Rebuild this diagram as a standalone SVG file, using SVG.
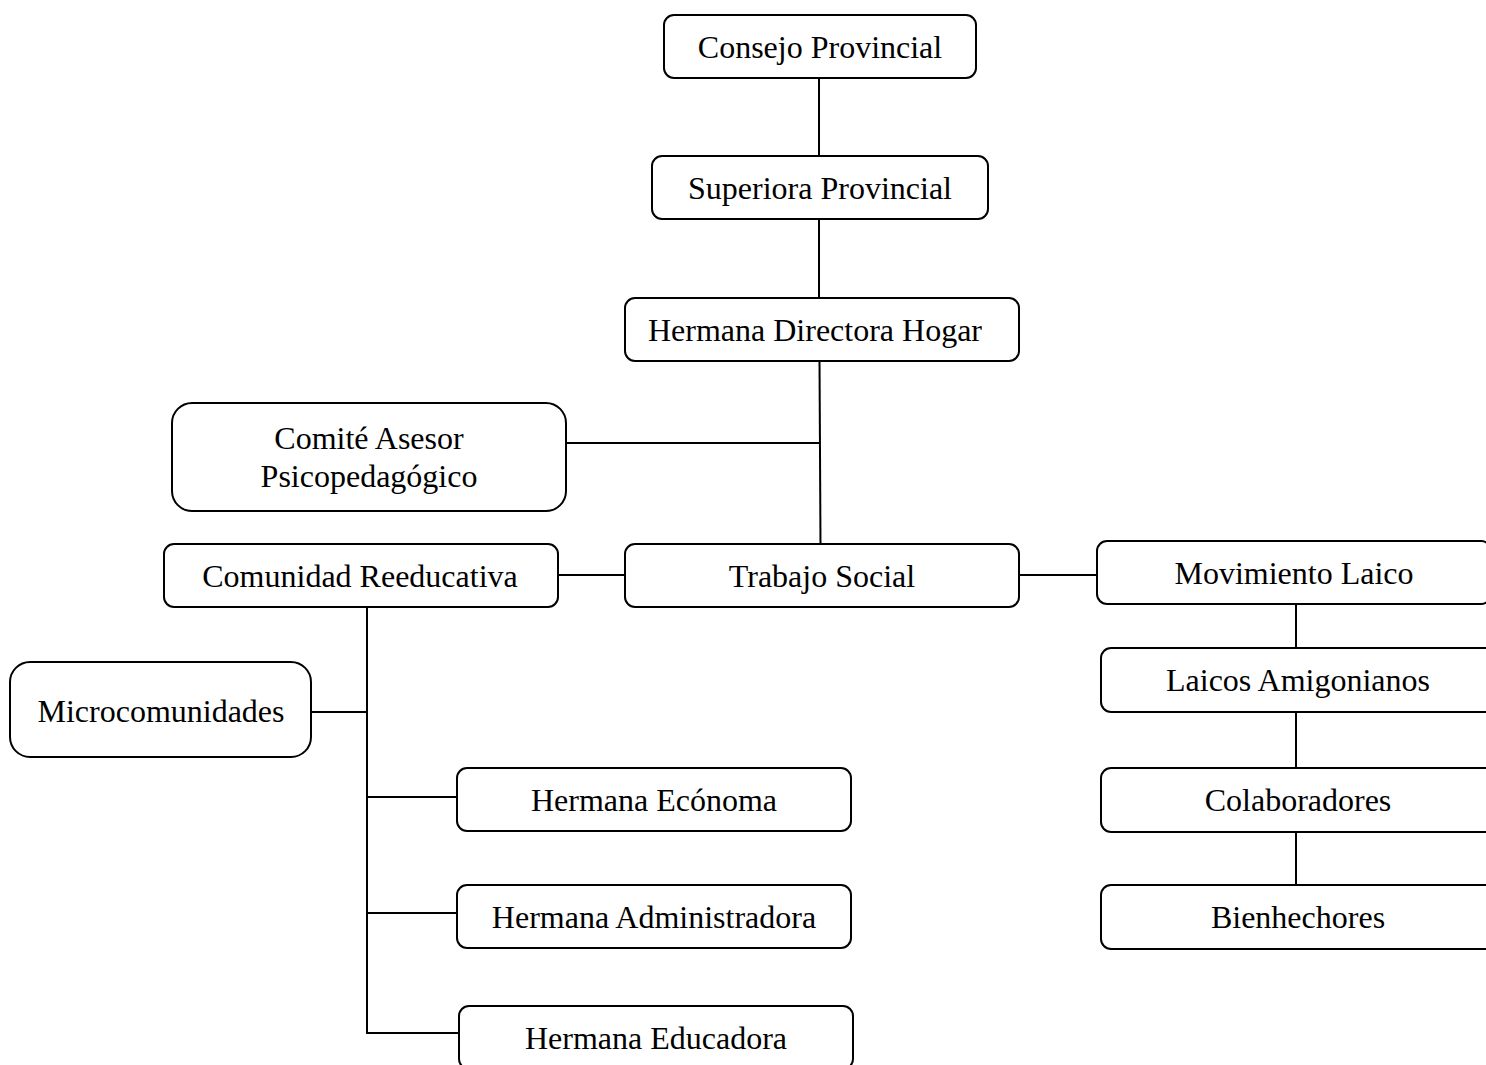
<svg xmlns="http://www.w3.org/2000/svg" width="1486" height="1065" viewBox="0 0 1486 1065">
<style>
.b{fill:#fff;stroke:#000;stroke-width:2}
.t{font-family:"Liberation Serif","Times New Roman",serif;font-size:32px;fill:#000;text-anchor:middle}
.c line{stroke:#000;stroke-width:2}
</style>
<rect width="1486" height="1065" fill="#fff"/>
<g class="c" id="connectors">
<line x1="819" y1="78" x2="819" y2="156"/>
<line x1="819" y1="219" x2="819" y2="298"/>
<line x1="819.5" y1="361" x2="820.5" y2="544"/>
<line x1="566" y1="443" x2="820" y2="443"/>
<line x1="558" y1="575" x2="625" y2="575"/>
<line x1="1019" y1="575" x2="1097" y2="575"/>
<line x1="367" y1="607" x2="367" y2="1034"/>
<line x1="366" y1="1033" x2="459" y2="1033"/>
<line x1="311" y1="712" x2="367" y2="712"/>
<line x1="367" y1="797" x2="457" y2="797"/>
<line x1="367" y1="913" x2="457" y2="913"/>
<line x1="1296" y1="604" x2="1296" y2="648"/>
<line x1="1296" y1="712" x2="1296" y2="768"/>
<line x1="1296" y1="832" x2="1296" y2="885"/>
</g>
<g id="n1"><rect class="b" x="664" y="15" width="312" height="63" rx="10"/><text class="t" x="820" y="58">Consejo Provincial</text></g>
<g id="n2"><rect class="b" x="652" y="156" width="336" height="63" rx="10"/><text class="t" x="820" y="199">Superiora Provincial</text></g>
<g id="n3"><rect class="b" x="625" y="298" width="394" height="63" rx="10"/><text class="t" x="815" y="341">Hermana Directora Hogar</text></g>
<g id="n4"><rect class="b" x="172" y="403" width="394" height="108" rx="20"/><text class="t" x="369" y="449">Comité Asesor</text><text class="t" x="369" y="487">Psicopedagógico</text></g>
<g id="n5"><rect class="b" x="164" y="544" width="394" height="63" rx="10"/><text class="t" x="360" y="587">Comunidad Reeducativa</text></g>
<g id="n6"><rect class="b" x="625" y="544" width="394" height="63" rx="10"/><text class="t" x="822" y="587">Trabajo Social</text></g>
<g id="n7"><rect class="b" x="1097" y="541" width="394" height="63" rx="10"/><text class="t" x="1294" y="584">Movimiento Laico</text></g>
<g id="n8"><rect class="b" x="10" y="662" width="301" height="95" rx="20"/><text class="t" x="161" y="722">Microcomunidades</text></g>
<g id="n9"><rect class="b" x="457" y="768" width="394" height="63" rx="10"/><text class="t" x="654" y="811">Hermana Ecónoma</text></g>
<g id="n10"><rect class="b" x="457" y="885" width="394" height="63" rx="10"/><text class="t" x="654" y="928">Hermana Administradora</text></g>
<g id="n11"><rect class="b" x="459" y="1006" width="394" height="63" rx="10"/><text class="t" x="656" y="1049">Hermana Educadora</text></g>
<g id="n12"><rect class="b" x="1101" y="648" width="394" height="64" rx="10"/><text class="t" x="1298" y="691">Laicos Amigonianos</text></g>
<g id="n13"><rect class="b" x="1101" y="768" width="394" height="64" rx="10"/><text class="t" x="1298" y="811">Colaboradores</text></g>
<g id="n14"><rect class="b" x="1101" y="885" width="394" height="64" rx="10"/><text class="t" x="1298" y="928">Bienhechores</text></g>
</svg>
